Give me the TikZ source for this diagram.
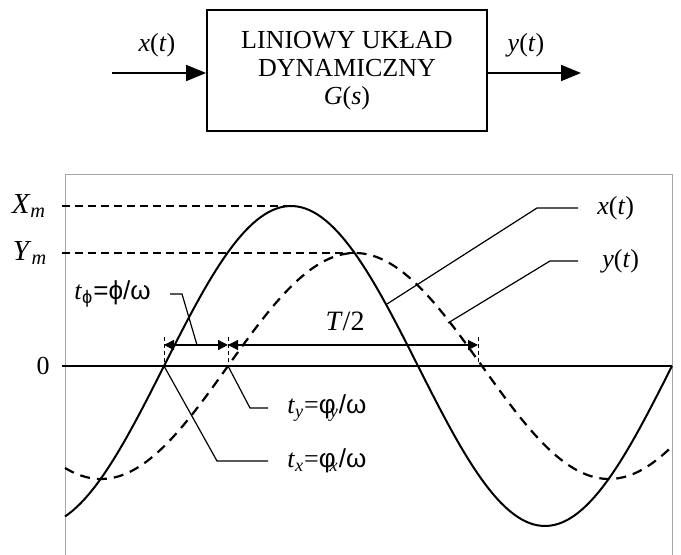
\documentclass[tikz,border=0pt]{standalone}
\usepackage{fontspec}
\setmainfont{Liberation Serif}
\setsansfont{Liberation Sans}
\usetikzlibrary{arrows.meta}
\begin{document}
\begin{tikzpicture}[x=0.5pt,y=-0.5pt,
  blk/.style={draw, line width=0.9pt, minimum width=140pt, minimum height=60.5pt, align=center, inner sep=0pt, font=\fontsize{13}{14}\selectfont},
  bigarrow/.style={line width=0.9pt, -{Triangle[length=10pt,width=8pt]}},
  sig/.style={font=\fontsize{13}{15}\selectfont},
  lbl/.style={font=\fontsize{13}{15}\selectfont, inner sep=0pt},
  frame/.style={draw=gray!70, line width=0.5pt},
  curve/.style={line width=1pt, line join=round},
  dcurve/.style={line width=1.1pt, dash pattern=on 5pt off 3.5pt},
  guide/.style={line width=0.7pt, dash pattern=on 4pt off 2.5pt},
  tick/.style={line width=0.5pt, dash pattern=on 2pt off 1.5pt},
  leader/.style={line width=0.6pt},
  dim/.style={line width=0.6pt, {Triangle[length=5pt,width=5pt]}-{Triangle[length=5pt,width=5pt]}}
]
\useasboundingbox (0,0) rectangle (681,555);
% block diagram
\node[blk] (g) at (347,70.5) {LINIOWY UKŁAD\\DYNAMICZNY\\\textit{G}(\textit{s})};
\coordinate (in) at (112,73);
\coordinate (out) at (581,73);
\draw[bigarrow] (in) -- (g.west |- in);
\draw[bigarrow] (g.east |- out) -- (out);
\node[sig] (xin) at (157,45) {\textit{x}(\textit{t})};
\node[sig] (yout) at (526,45) {\textit{y}(\textit{t})};
% frame and axis
\draw[frame] (65,555) -- (65,175) -- (672,175) -- (672,555);
\coordinate (a0) at (62,366);
\coordinate (a1) at (672,366);
\draw[line width=0.8pt] (a0) -- (a1);
% curves
\draw[curve] plot[domain=65:672, samples=150] (\x, {366-160*sin((\x-164)/508*360)});
\draw[dcurve] plot[domain=65:672, samples=150] (\x, {366-113*sin((\x-228)/508*360)});
% amplitude guides
\coordinate (xm0) at (62,206); \coordinate (xm1) at (290,206);
\coordinate (ym0) at (62,253); \coordinate (ym1) at (355,253);
\draw[guide] (xm0) -- (xm1);
\draw[guide] (ym0) -- (ym1);
\node[lbl, font=\fontsize{14.5}{16}\selectfont] (Xm) at (29,206) {\textit{X}\textsubscript{\textit{m}}};
\node[lbl, font=\fontsize{14.5}{16}\selectfont] (Ym) at (30,253) {\textit{Y}\textsubscript{\textit{m}}};
\node[lbl, font=\fontsize{13}{15}\selectfont] (zero) at (43,366) {0};
% ticks and dimension arrows
\coordinate (p1) at (164,345); \coordinate (p1b) at (164,366);
\coordinate (p2) at (228,345); \coordinate (p2b) at (228,366);
\coordinate (p3) at (478,345); \coordinate (p3b) at (478,366);
\draw[tick] (164,337) -- (p1b);
\draw[tick] (228,337) -- (p2b);
\draw[tick] (478,337) -- (p3b);
\draw[dim] (p1) -- (p2);
\draw[dim] (p2) -- (p3);
\node[lbl, font=\fontsize{14}{16}\selectfont] (T2) at (345,321) {\textit{T}/2};
% leaders and labels
\node[lbl, anchor=west] (tphi) at (74,294) {\textit{t}\textsubscript{\sffamily ϕ}\sffamily =ϕ/ω};
\coordinate (lp1) at (170,294); \coordinate (lp2) at (182,294); \coordinate (lp3) at (197,345);
\draw[leader] (lp1) -- (lp2) -- (lp3);
\node[lbl, anchor=west] (ty) at (287,408) {\textit{t}\textsubscript{\textit{y}}=\sffamily φ\textsubscript{\kern-3pt\rmfamily\itshape y}/ω};
\draw[leader] (p2b) -- (250,408) -- (268,408);
\node[lbl, anchor=west] (tx) at (287,461) {\textit{t}\textsubscript{\textit{x}}=\sffamily φ\textsubscript{\kern-3pt\rmfamily\itshape x}/ω};
\draw[leader] (p1b) -- (217,461) -- (268,461);
\node[lbl, anchor=west, font=\fontsize{13}{15}\selectfont] (xl) at (597,208) {\textit{x}(\textit{t})};
\draw[leader] (387,304) -- (537,208) -- (578,208);
\node[lbl, anchor=west, font=\fontsize{13}{15}\selectfont] (yl) at (602,261) {\textit{y}(\textit{t})};
\draw[leader] (448,323) -- (550,261) -- (578,261);
\end{tikzpicture}
\end{document}
